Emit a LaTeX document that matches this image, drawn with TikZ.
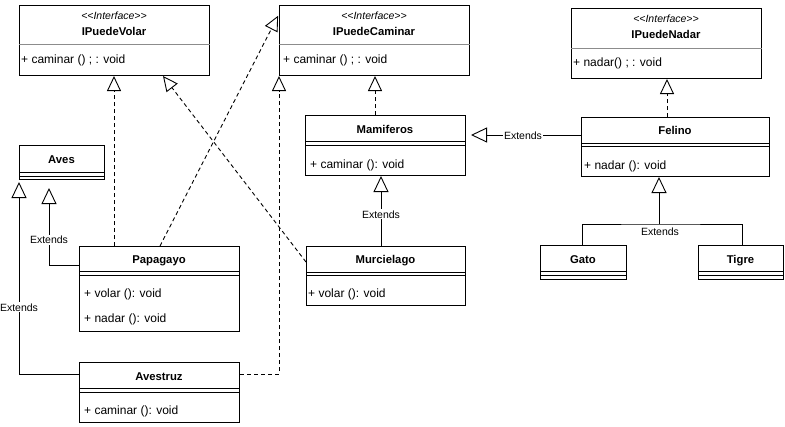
\documentclass[tikz,border=0pt]{standalone}
\usepackage{fontspec}
\setmainfont{Liberation Sans}
\usetikzlibrary{arrows.meta}
\begin{document}
\begin{tikzpicture}[x=1pt,y=-1pt,
  cls/.style={draw, line width=1pt, fill=white, rectangle, anchor=north west, inner sep=0pt},
  sepg/.style={draw=black!45, line width=1pt},
  sepk/.style={draw, line width=1pt},
  st/.style={anchor=base, inner sep=0pt, font=\fontsize{10.5}{12}\selectfont\itshape},
  nm/.style={anchor=base, inner sep=0pt, font=\fontsize{11.3}{13}\selectfont\bfseries},
  meth/.style={anchor=base west, inner sep=0pt, font=\fontsize{12}{14}\selectfont},
  lbl/.style={anchor=base, inner sep=1pt, fill=white, font=\fontsize{10.5}{12}\selectfont},
  real/.style={line width=0.9pt, dash pattern=on 4pt off 3pt, -{Triangle[open, length=15pt, width=14pt, line width=0.9pt]}},
  inh/.style={line width=0.9pt, -{Triangle[open, length=16pt, width=15pt, line width=0.9pt]}},
  plain/.style={line width=0.9pt}
]
\fill[white] (0,0) rectangle (785,426);
\useasboundingbox (0,0) rectangle (785,426);

% ---------- boxes ----------
\node[cls, minimum width=190pt, minimum height=70pt] (iv) at (19,5) {};
\node[cls, minimum width=190pt, minimum height=70pt] (ic) at (279,5) {};
\node[cls, minimum width=190pt, minimum height=70pt] (in) at (571,8) {};
\node[cls, minimum width=160pt, minimum height=60pt] (ma) at (305,115) {};
\node[cls, minimum width=188pt, minimum height=59pt] (fe) at (581,117) {};
\node[cls, minimum width=86pt, minimum height=34pt] (ga) at (540,245) {};
\node[cls, minimum width=85pt, minimum height=34pt] (ti) at (698,245) {};
\node[cls, minimum width=159pt, minimum height=59pt] (mu) at (306,246) {};
\node[cls, minimum width=160pt, minimum height=85pt] (pa) at (79,246) {};
\node[cls, minimum width=160pt, minimum height=60pt] (av) at (79,362) {};
\node[cls, minimum width=85pt, minimum height=34pt] (ave) at (19,145) {};

% separators
\draw[sepg] (iv.west |- 0,44) -- (iv.east |- 0,44);
\draw[sepg] (ic.west |- 0,44) -- (ic.east |- 0,44);
\draw[sepg] (in.west |- 0,48) -- (in.east |- 0,48);
\foreach \b/\ya/\yb in {ma/141/145, fe/143/146, ga/271/275, ti/271/275, mu/272/275, pa/271/275, av/388/392, ave/172/176}{
  \draw[sepk] (\b.west |- 0,\ya) -- (\b.east |- 0,\ya);
  \draw[sepk] (\b.west |- 0,\yb) -- (\b.east |- 0,\yb);
}

% ---------- texts ----------
\node[st] (iv-s) at (114,19) {<\kern0pt<Interface>\kern0pt>};
\node[nm] (iv-n) at (114,35) {IPuedeVolar};
\node[meth] (iv-m) at (21,63) {+ caminar () ; : void};

\node[st] (ic-s) at (374,19) {<\kern0pt<Interface>\kern0pt>};
\node[nm] (ic-n) at (374,35) {IPuedeCaminar};
\node[meth] (ic-m) at (283,63) {+ caminar () ; : void};

\node[st] (in-s) at (666,22) {<\kern0pt<Interface>\kern0pt>};
\node[nm] (in-n) at (666,38) {IPuedeNadar};
\node[meth] (in-m) at (573,66) {+ nadar() ; : void};

\node[nm] (ma-n) at (385,133) {Mamiferos};
\node[meth] (ma-m) at (310,168) {+ caminar (): void};

\node[nm] (fe-n) at (675,134) {Felino};
\node[meth] (fe-m) at (584,169) {+ nadar (): void};

\node[nm] (ga-n) at (583,263) {Gato};
\node[nm] (ti-n) at (740.5,263) {Tigre};

\node[nm] (mu-n) at (385.5,263) {Murcielago};
\node[meth] (mu-m) at (308,297) {+ volar (): void};

\node[nm] (pa-n) at (159,263) {Papagayo};
\node[meth] (pa-m1) at (84,297) {+ volar (): void};
\node[meth] (pa-m2) at (84,322) {+ nadar (): void};

\node[nm] (av-n) at (159,380) {Avestruz};
\node[meth] (av-m) at (84,414) {+ caminar (): void};

\node[nm] (ave-n) at (61.5,163) {Aves};

% ---------- connectors ----------
% realizations (dashed)
\draw[real] (pa.north -| 114,0) -- (iv.south -| 114,0);
\draw[real, shorten >=2pt] (pa.north -| 160,0) -- (ic.west |- 0,14);
\draw[real] (mu.west |- 0,262) -- (iv.south -| 163,0);
\draw[real] (av.east |- 0,374) -| (ic.south west);
\draw[real] (ma.north -| 375,0) -- (ic.south -| 375,0);
\draw[real] (fe.north -| 667,0) -- (in.south -| 667,0);

% generalizations (solid)
\draw[inh, shorten >=5pt] (fe.west |- 0,135) -- (ma.east |- 0,135);
\node[lbl] (ext-fm) at (523,139) {Extends};

\draw[inh] (mu.north -| 381,0) -- (ma.south -| 381,0);
\node[lbl] (ext-mm) at (381,218) {Extends};

\coordinate (gj) at (659,224);
\draw[plain] (ga.north -| 582,0) |- (gj) -| (ti.north -| 742,0);
\draw[inh] (gj) -- (fe.south -| 659,0);
\node[lbl, fill=none] (ext-gt) at (660,235) {Extends};

\draw[inh, shorten >=8pt] (pa.west |- 0,265) -| (ave.south -| 49,0);
\node[lbl] (ext-pa) at (49,243.5) {Extends};

\draw[inh, shorten >=2pt] (av.west |- 0,374) -| (ave.south -| 19,0);
\node[lbl] (ext-av) at (19,311) {Extends};
\end{tikzpicture}
\end{document}
